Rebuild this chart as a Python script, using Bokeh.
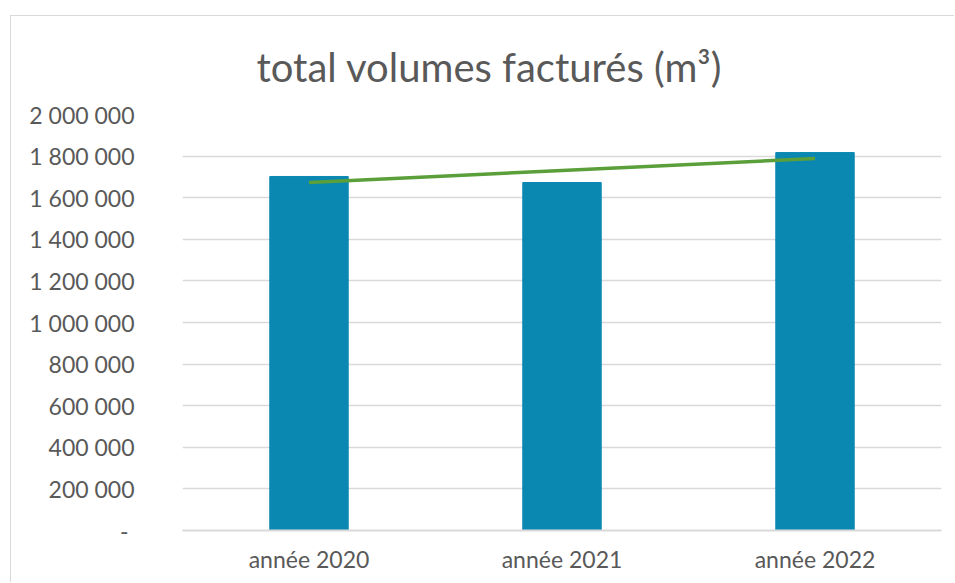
from bokeh.plotting import figure
from bokeh.models import FixedTicker, ColumnDataSource
from bokeh.embed import file_html
from bokeh.resources import INLINE
import numpy as np

categories = ["année 2020", "année 2021", "année 2022"]
volumes = [1702000, 1673000, 1817000]
y_ticks = [0, 200000, 400000, 600000, 800000, 1000000, 1200000, 1400000, 1600000, 1800000, 2000000]
y_tick_labels = ["-\u00a0", "200 000", "400 000", "600 000", "800 000", "1 000 000",
                 "1 200 000", "1 400 000", "1 600 000", "1 800 000", "2 000 000"]
title_text = "total volumes facturés (m³)"

FONT = "Lato"
GREY = "#595959"

p = figure(x_range=categories, y_range=(0, 2000000), width=944, height=567,
           output_backend="svg", toolbar_location=None,
           min_border_left=171, min_border_right=14, min_border_top=98, min_border_bottom=53)
p.styles = {"margin-left": "10px", "margin-top": "15px",
            "border-left": "1.5px solid #D9D9D9", "border-top": "1.5px solid #D9D9D9"}
p.outline_line_color = None
p.background_fill_color = "white"

p.title.text = title_text
p.title.align = "left"
p.title.offset = 74
p.title.text_font = FONT
p.title.text_font_style = "normal"
p.title.text_font_size = "40px"
p.title.text_color = GREY
p.title.standoff = 48

src = ColumnDataSource(dict(x=categories, top=volumes))
p.vbar(x="x", top="top", width=0.31, source=src, color="#0A88B2")

# linear trendline (fit of the series)
idx = np.arange(len(volumes))
slope, intercept = np.polyfit(idx, volumes, 1)
trend = [intercept + slope * i for i in idx]
p.line(x=categories, y=trend, line_color="#5A9F3A", line_width=3.5)

p.yaxis.ticker = FixedTicker(ticks=y_ticks)
p.yaxis.major_label_overrides = {t: l for t, l in zip(y_ticks, y_tick_labels)}
p.yaxis.axis_line_color = None
p.yaxis.major_tick_line_color = None
p.yaxis.minor_tick_line_color = None
p.yaxis.major_label_standoff = 42
p.yaxis.major_label_text_font = FONT
p.yaxis.major_label_text_font_size = "23px"
p.yaxis.major_label_text_color = GREY

p.xaxis.axis_line_color = "#D9D9D9"
p.xaxis.axis_line_width = 2
p.xaxis.major_tick_line_color = None
p.xaxis.minor_tick_line_color = None
p.xaxis.major_label_standoff = 8
p.xaxis.major_label_text_font = FONT
p.xaxis.major_label_text_font_size = "23px"
p.xaxis.major_label_text_color = GREY

p.xgrid.grid_line_color = None
p.ygrid.grid_line_color = "#D9D9D9"
p.ygrid.grid_line_width = 1.5
p.x_range.range_padding = 0

open("out.html", "w").write(file_html(p, INLINE))
